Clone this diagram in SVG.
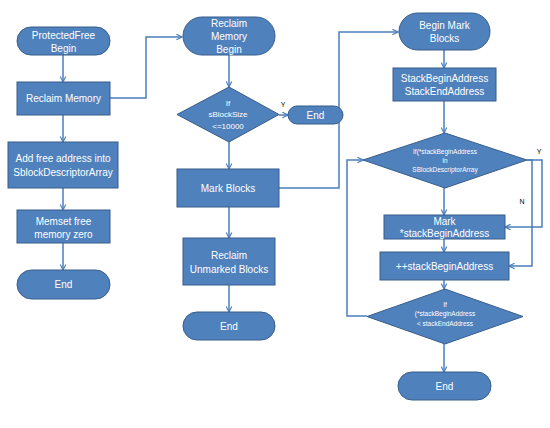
<svg xmlns="http://www.w3.org/2000/svg" width="550" height="428" viewBox="0 0 550 428">
<defs>
<marker id="arr" viewBox="0 0 10 10" refX="9" refY="5" markerWidth="7" markerHeight="7" orient="auto" markerUnits="userSpaceOnUse">
<polyline points="1,1 9,5 1,9" fill="none" stroke="#4a7ebb" stroke-width="1.6"/>
</marker>
<style>
.s{fill:#4f81bd;stroke:#385d8a;stroke-width:1}
.t{fill:#ffffff;font-family:"Liberation Sans",Arial,sans-serif;font-size:10px;text-anchor:middle;dominant-baseline:central}
.sm{font-size:8px}
.xs{font-size:6.5px}
.c{fill:none;stroke:#4a7ebb;stroke-width:1.5}
.lb{fill:#000;font-family:"Liberation Sans",Arial,sans-serif;font-size:7px;text-anchor:middle;dominant-baseline:central}
</style>
</defs>
<rect width="550" height="428" fill="#fff"/>
<g id="connectors">
<path class="c" d="M63,55V82" marker-end="url(#arr)"/>
<path class="c" d="M63,115V142" marker-end="url(#arr)"/>
<path class="c" d="M63,188V210" marker-end="url(#arr)"/>
<path class="c" d="M63,243V270" marker-end="url(#arr)"/>
<path class="c" d="M110,98H146V37H182" marker-end="url(#arr)"/>
<path class="c" d="M229,55V87" marker-end="url(#arr)"/>
<path class="c" d="M279,115H288" marker-end="url(#arr)"/>
<path class="c" d="M229,142V169" marker-end="url(#arr)"/>
<path class="c" d="M229,207V238" marker-end="url(#arr)"/>
<path class="c" d="M229,285V312" marker-end="url(#arr)"/>
<path class="c" d="M279,188H339V32H398" marker-end="url(#arr)"/>
<path class="c" d="M444,50V68" marker-end="url(#arr)"/>
<path class="c" d="M444,101V133" marker-end="url(#arr)"/>
<path class="c" d="M444,188V215" marker-end="url(#arr)"/>
<path class="c" d="M444,239V252" marker-end="url(#arr)"/>
<path class="c" d="M444,280V289" marker-end="url(#arr)"/>
<path class="c" d="M444,344V372" marker-end="url(#arr)"/>
<path class="c" d="M527,160H542V227H505" marker-end="url(#arr)"/>
<path class="c" d="M527,160H532V266H509" marker-end="url(#arr)"/>
<path class="c" d="M367,316H347V160H363" marker-end="url(#arr)"/>
<text class="lb" x="283" y="104">Y</text>
<text class="lb" x="539" y="151">Y</text>
<text class="lb" x="522" y="201">N</text>
</g>
<g id="pf-begin"><rect class="s" x="17" y="27" width="93" height="28" rx="14"/><text class="t" x="63.5" y="35">ProtectedFree</text><text class="t" x="63.5" y="48">Begin</text></g>
<g id="reclaim-memory"><rect class="s" x="17" y="82" width="93" height="33"/><text class="t" x="63.5" y="98.5">Reclaim Memory</text></g>
<g id="add-free"><rect class="s" x="8" y="142" width="110" height="46"/><text class="t" x="63" y="158">Add free address into</text><text class="t" x="63" y="172">SblockDescriptorArray</text></g>
<g id="memset"><rect class="s" x="17" y="210" width="93" height="33"/><text class="t" x="63.5" y="221">Memset free</text><text class="t" x="63.5" y="234">memory zero</text></g>
<g id="end1"><rect class="s" x="17" y="270" width="93" height="29" rx="14.5"/><text class="t" x="63.5" y="284.5">End</text></g>
<g id="rm-begin"><rect class="s" x="183" y="17" width="92" height="38" rx="19"/><text class="t" x="229" y="23">Reclaim</text><text class="t" x="229" y="36">Memory</text><text class="t" x="229" y="49">Begin</text></g>
<g id="if-size"><polygon class="s" points="229,87 279,114.5 229,142 177,114.5"/><text class="t sm" x="228" y="103">If</text><text class="t sm" x="228" y="114.5">sBlockSize</text><text class="t sm" x="228" y="126">&lt;=10000</text></g>
<g id="end2"><rect class="s" x="288" y="106" width="55" height="18" rx="9"/><text class="t" x="315.5" y="115">End</text></g>
<g id="mark-blocks"><rect class="s" x="177" y="169" width="102" height="38"/><text class="t" x="228" y="188">Mark Blocks</text></g>
<g id="reclaim-unmarked"><rect class="s" x="183" y="238" width="92" height="47"/><text class="t" x="229" y="255">Reclaim</text><text class="t" x="229" y="269">Unmarked Blocks</text></g>
<g id="end3"><rect class="s" x="183" y="312" width="92" height="28" rx="14"/><text class="t" x="229" y="326">End</text></g>
<g id="bm-begin"><rect class="s" x="399" y="13" width="91" height="37" rx="18.5"/><text class="t" x="444.5" y="25">Begin Mark</text><text class="t" x="444.5" y="38.5">Blocks</text></g>
<g id="stack-addr"><rect class="s" x="393" y="68" width="103" height="33"/><text class="t" x="444.5" y="78">StackBeginAddress</text><text class="t" x="444.5" y="91">StackEndAddress</text></g>
<g id="if-in"><polygon class="s" points="445,133 527,160 445,188 363,160"/><text class="t xs" x="445" y="151">If(*stackBeginAddress</text><text class="t xs" x="445" y="160">In</text><text class="t xs" x="445" y="169">SBlockDescriptorArray</text></g>
<g id="mark"><rect class="s" x="384" y="215" width="121" height="24"/><text class="t" x="444.5" y="221">Mark</text><text class="t" x="444.5" y="233">*stackBeginAddress</text></g>
<g id="inc"><rect class="s" x="380" y="252" width="129" height="28"/><text class="t" x="444.5" y="266">++stackBeginAddress</text></g>
<g id="if-lt"><polygon class="s" points="445,289 523,316.5 445,344 367,316.5"/><text class="t xs" x="445" y="304">If</text><text class="t xs" x="445" y="313.5">(*stackBeginAddress</text><text class="t xs" x="445" y="323">&lt; stackEndAddress</text></g>
<g id="end4"><rect class="s" x="398" y="372" width="93" height="28" rx="14"/><text class="t" x="444.5" y="386">End</text></g>
</svg>
